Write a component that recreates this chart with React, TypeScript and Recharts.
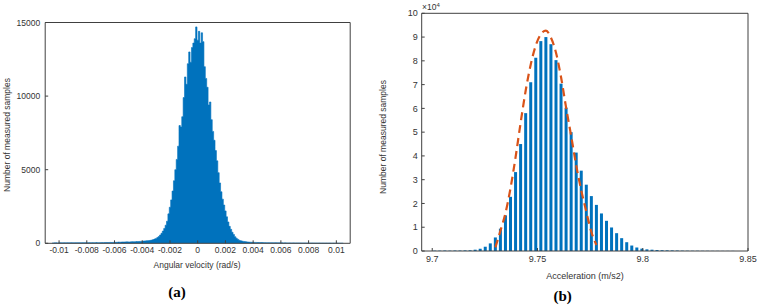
import React from "react";
import { Area, AreaChart, Bar, ComposedChart, Line, XAxis, YAxis } from "recharts";

const AXIS_COLOR = "#404040";
const TEXT_COLOR = "#333333";
const BAR_BLUE = "#0072BD";
const FIT_ORANGE = "#D95319";
const FONT = '"Liberation Sans", Arial, sans-serif';

// (a) angular velocity histogram, bins of 0.0001 rad/s from -0.0105 to 0.0105
const angularBinStart = -0.0105;
const angularBinWidth = 0.0001;
const angularTailLeft = [
  20, 25, 30, 30, 25, 30, 35, 30, 30, 35,
  30, 35, 30, 35, 40, 35, 30, 35, 40, 35,
  40, 35, 40, 45, 40, 35, 40, 45, 40, 45,
  40, 45, 50, 45, 40, 45, 50, 45, 50, 55,
  50, 55, 60, 55, 60, 70, 65, 70, 80, 75,
  80, 90, 85, 95, 100, 95, 90, 100, 110, 105,
  110, 120, 115, 125, 130,
];
const angularCore = [
  140, 150, 160, 170, 180, 190, 200, 220, 250, 290,
  330, 390, 460, 560, 680, 830, 1010, 1230, 1500, 2000,
  2450, 2950, 3550, 4250, 5000, 5700, 6600, 8000, 7900, 8600,
  9900, 11300, 10800, 12200, 13000, 12300, 13300, 13600, 13900, 14700,
  13800, 14400, 13600, 14300, 13700, 12000, 11200, 10600, 9400, 9600,
  8400, 7600, 7000, 6300, 5600, 4800, 4100, 3500, 3000, 2600,
  2200, 1800, 1450, 1150, 950, 750, 600, 450, 350, 270,
  210, 180, 150, 130, 115, 100, 90, 80, 75, 70, 65,
];
const angularTailRight = [
  60, 60, 55, 55, 50, 50, 48, 45, 45, 42,
  40, 40, 38, 35, 35, 38, 35, 32, 30, 30,
  30, 28, 30, 28, 25, 28, 25, 25, 28, 25,
  25, 22, 25, 22, 20, 22, 20, 22, 20, 18,
  20, 18, 20, 18, 15, 18, 15, 18, 15, 15,
  15, 12, 15, 12, 15, 12, 10, 12, 10, 10,
  10, 10, 8, 10, 8,
];
const angularTicks = [-0.01, -0.008, -0.006, -0.004, -0.002, 0, 0.002, 0.004, 0.006, 0.008, 0.01];
const angularCountTicks = [0, 5000, 10000, 15000];

// (b) acceleration histogram, bins of 0.0024 m/s2 starting at 9.7012
const accelBinStart = 9.7012;
const accelBinWidth = 0.0024;
const accelCounts = [
  150, 150, 200, 150, 200, 200, 250,
  300, 550, 950, 1800, 3200, 5700, 9400, 15000, 22800, 33200,
  45000, 58000, 71000, 81300, 88300, 90000, 87000, 80300, 70400, 60300,
  50000, 41400, 33800, 27900, 23100, 19400, 15800, 12700, 9900, 7500,
  5400, 3700, 2300, 1500, 1000, 700, 550, 420, 330, 280,
  250, 200, 150, 120, 100, 100, 80, 80, 60, 60, 50, 50, 50,
];
// fitted normal curve (dashed), read at the bin centres 12..32; null = not drawn
const accelFit = [
  null, null, null, null, null, null, null,
  null, null, null, null, null, 1500, 8500, 16000, 26500, 39500,
  54000, 67500, 78500, 86500, 91200, 92700, 89700, 83400, 73100, 60300,
  48400, 36000, 25500, 16500, 8000, 2500, null, null, null, null,
  null, null, null, null, null, null, null, null, null, null,
  null, null, null, null, null, null, null, null, null, null, null, null, null,
];
const accelTicks = [9.7, 9.75, 9.8, 9.85];
const accelCountTicks = [0, 10000, 20000, 30000, 40000, 50000, 60000, 70000, 80000, 90000, 100000];

const angularData = [...angularTailLeft, ...angularCore, ...angularTailRight].map((count, i) => ({
  v: Number((angularBinStart + i * angularBinWidth).toFixed(4)),
  count,
}));
const accelData = accelCounts.map((count, i) => ({
  x: Number((accelBinStart + i * accelBinWidth).toFixed(4)),
  count,
  fit: accelFit[i],
}));

const tickStyle = { fill: TEXT_COLOR, fontSize: 8.5, fontFamily: FONT };
const axisLineStyle = { stroke: AXIS_COLOR, strokeWidth: 1 };
const tickLineStyle = { stroke: AXIS_COLOR, strokeWidth: 1 };

function AxisTitle({ x, y, text, rotate = false, size = 8.5 }: { x: number; y: number; text: string; rotate?: boolean; size?: number }) {
  return (
    <div
      style={{
        position: "absolute",
        left: x,
        top: y,
        transform: `translate(-50%, -50%)${rotate ? " rotate(-90deg)" : ""}`,
        whiteSpace: "nowrap",
        fontSize: size,
        fontFamily: FONT,
        color: TEXT_COLOR,
        lineHeight: 1,
      }}
    >
      {text}
    </div>
  );
}

function PanelTag({ x, y, text }: { x: number; y: number; text: string }) {
  return (
    <div
      style={{
        position: "absolute",
        left: x,
        top: y,
        transform: "translate(-50%, -50%)",
        fontSize: 15,
        fontWeight: "bold",
        fontFamily: '"Liberation Serif", "Times New Roman", serif',
        color: "#000",
        lineHeight: 1,
      }}
    >
      {text}
    </div>
  );
}

const fmtAngular = (v: number) => String(Number(v.toFixed(3)));
const fmtAccel = (v: number) => String(Number(v.toFixed(2)));
const fmtTenThousands = (v: number) => String(v / 10000);

function AngularPanel() {
  // bins touch each other, so the histogram is drawn as a stepped filled area
  return (
    <div style={{ position: "absolute", left: 0, top: 0, width: 380, height: 307 }}>
      <AreaChart
        width={380}
        height={307}
        data={angularData}
        margin={{ top: 21.5, right: 28.8, bottom: 43.7, left: 5.2 }}
      >
        <XAxis
          dataKey="v"
          type="number"
          domain={[-0.011, 0.011]}
          ticks={angularTicks}
          interval={0}
          tickFormatter={fmtAngular}
          height={20}
          axisLine={axisLineStyle}
          tickLine={tickLineStyle}
          tickSize={-3}
          tickMargin={7}
          tick={tickStyle}
        />
        <XAxis
          xAxisId="top"
          orientation="top"
          dataKey="v"
          type="number"
          domain={[-0.011, 0.011]}
          ticks={angularTicks}
          interval={0}
          height={1}
          axisLine={axisLineStyle}
          tickLine={tickLineStyle}
          tickSize={-3}
          tick={false}
        />
        <YAxis
          type="number"
          domain={[0, 15000]}
          ticks={angularCountTicks}
          interval={0}
          width={40}
          axisLine={axisLineStyle}
          tickLine={tickLineStyle}
          tickSize={-3}
          tickMargin={8}
          tick={tickStyle}
        />
        <YAxis
          yAxisId="right"
          orientation="right"
          type="number"
          domain={[0, 15000]}
          ticks={angularCountTicks}
          interval={0}
          width={1}
          axisLine={axisLineStyle}
          tickLine={tickLineStyle}
          tickSize={-3}
          tick={false}
        />
        <Area
          dataKey="count"
          type="step"
          fill={BAR_BLUE}
          fillOpacity={1}
          stroke={BAR_BLUE}
          strokeWidth={0.6}
          isAnimationActive={false}
        />
      </AreaChart>
      <AxisTitle x={7} y={135} text="Number of measured samples" rotate />
      <AxisTitle x={197} y={265} text="Angular velocity (rad/s)" />
      <PanelTag x={177} y={291.5} text="(a)" />
    </div>
  );
}

function AccelPanel() {
  return (
    <div style={{ position: "absolute", left: 380, top: 0, width: 380, height: 307 }}>
      <ComposedChart
        width={380}
        height={307}
        data={accelData}
        margin={{ top: 12.3, right: 11, bottom: 36, left: 11.7 }}
      >
        <XAxis
          dataKey="x"
          type="number"
          domain={[9.695, 9.85]}
          ticks={accelTicks}
          interval={0}
          tickFormatter={fmtAccel}
          height={20}
          axisLine={axisLineStyle}
          tickLine={tickLineStyle}
          tickSize={-3}
          tickMargin={8}
          tick={{ ...tickStyle, fontSize: 9 }}
        />
        <XAxis
          xAxisId="top"
          orientation="top"
          dataKey="x"
          type="number"
          domain={[9.695, 9.85]}
          ticks={accelTicks}
          interval={0}
          height={1}
          axisLine={axisLineStyle}
          tickLine={tickLineStyle}
          tickSize={-3}
          tick={false}
        />
        <YAxis
          type="number"
          domain={[0, 100000]}
          ticks={accelCountTicks}
          interval={0}
          tickFormatter={fmtTenThousands}
          width={30}
          axisLine={axisLineStyle}
          tickLine={tickLineStyle}
          tickSize={-3}
          tickMargin={7}
          tick={{ ...tickStyle, fontSize: 9 }}
        />
        <YAxis
          yAxisId="right"
          orientation="right"
          type="number"
          domain={[0, 100000]}
          ticks={accelCountTicks}
          interval={0}
          width={1}
          axisLine={axisLineStyle}
          tickLine={tickLineStyle}
          tickSize={-3}
          tick={false}
        />
        <Bar dataKey="count" fill={BAR_BLUE} barSize={3} isAnimationActive={false} />
        <Line
          dataKey="fit"
          type="monotone"
          stroke={FIT_ORANGE}
          strokeWidth={2.2}
          strokeDasharray="8 5"
          dot={false}
          connectNulls={false}
          isAnimationActive={false}
        />
      </ComposedChart>
      <div
        style={{
          position: "absolute",
          left: 42,
          top: 2,
          fontSize: 8.5,
          fontFamily: FONT,
          color: TEXT_COLOR,
          lineHeight: 1,
          whiteSpace: "nowrap",
        }}
      >
        ×10<sup style={{ fontSize: 6, verticalAlign: "3px" }}>4</sup>
      </div>
      <AxisTitle x={3} y={137} text="Number of measured samples" rotate />
      <AxisTitle x={205} y={275.5} text="Acceleration (m/s2)" size={9} />
      <PanelTag x={182.7} y={295.5} text="(b)" />
    </div>
  );
}

export default function App() {
  return (
    <div
      style={{
        position: "absolute",
        left: 0,
        top: 0,
        width: 760,
        height: 307,
        background: "#ffffff",
        overflow: "hidden",
      }}
    >
      <AngularPanel />
      <AccelPanel />
    </div>
  );
}
